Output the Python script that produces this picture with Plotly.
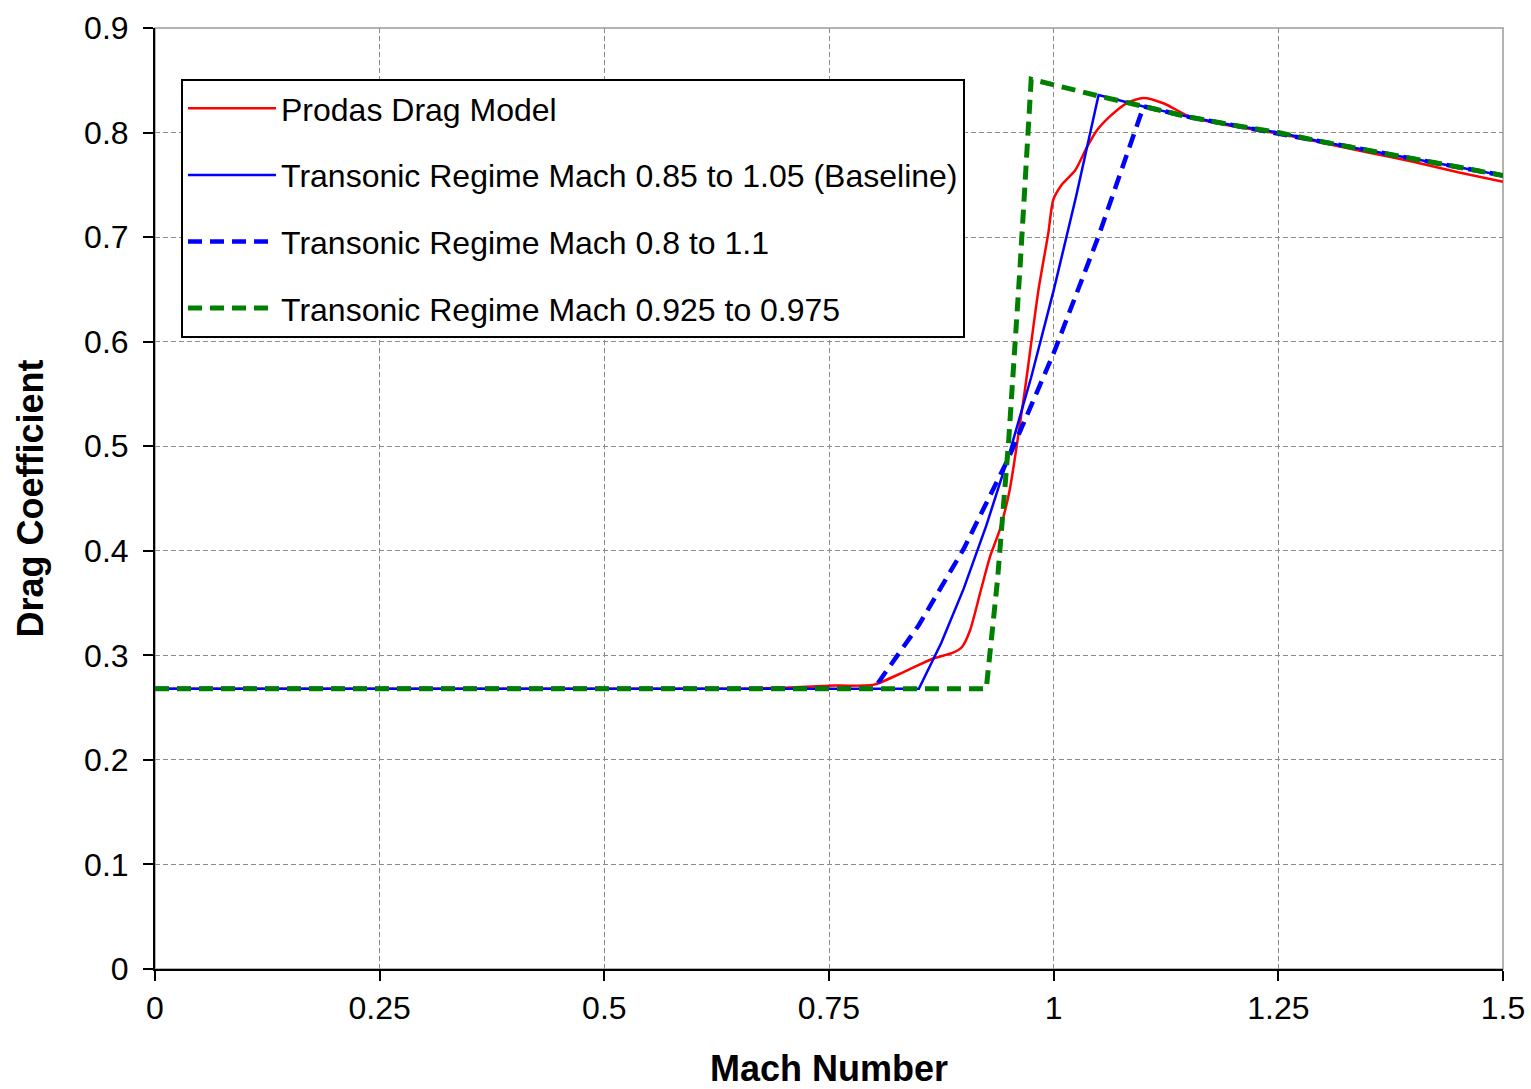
import plotly.graph_objects as go

# ---- data ----
prodas_mach = [0, 0.5, 0.65, 0.7, 0.75, 0.8, 0.833, 0.866, 0.888, 0.898, 0.907, 0.918,
               0.929, 0.940, 0.951, 0.968, 0.983, 0.994, 0.9995, 1.009, 1.024, 1.037,
               1.048, 1.062, 1.081, 1.0997, 1.122, 1.152, 1.181, 1.2, 1.25, 1.3, 1.35,
               1.4, 1.45, 1.5]
prodas_cd = [0.268, 0.268, 0.268, 0.269, 0.271, 0.272, 0.284, 0.297, 0.3025, 0.308, 0.324,
             0.359, 0.394, 0.420, 0.458, 0.554, 0.649, 0.7036, 0.7355, 0.75, 0.764, 0.786,
             0.802, 0.815, 0.828, 0.833, 0.828, 0.815, 0.809, 0.806, 0.799, 0.79, 0.781,
             0.772, 0.762, 0.753]

baseline_mach = [0, 0.85, 0.875, 0.9, 0.925, 0.95, 0.975, 1.0, 1.025, 1.05]
baseline_cd = [0.268, 0.268, 0.312, 0.364, 0.424, 0.491, 0.566, 0.649, 0.739, 0.836]

wide_mach = [0, 0.8, 0.85, 0.9, 0.95, 1.0, 1.05, 1.1]
wide_cd = [0.268, 0.268, 0.329, 0.402, 0.489, 0.589, 0.701, 0.825]

narrow_mach = [0, 0.925, 0.9375, 0.95, 0.9625, 0.975, 1.05, 1.1]
narrow_cd = [0.268, 0.268, 0.372, 0.506, 0.670, 0.851, 0.835, 0.825]

# shared supersonic branch
super_mach = [1.15, 1.2, 1.25, 1.3, 1.35, 1.4, 1.45, 1.5]
super_cd = [0.815, 0.807, 0.80, 0.791, 0.783, 0.775, 0.767, 0.759]
baseline_tail_mach = [1.1]
baseline_tail_cd = [0.825]

x_tick_vals = [0, 0.25, 0.5, 0.75, 1, 1.25, 1.5]
x_tick_text = ["0", "0.25", "0.5", "0.75", "1", "1.25", "1.5"]
y_tick_vals = [0, 0.1, 0.2, 0.3, 0.4, 0.5, 0.6, 0.7, 0.8, 0.9]
y_tick_text = ["0", "0.1", "0.2", "0.3", "0.4", "0.5", "0.6", "0.7", "0.8", "0.9"]

names = ["Prodas Drag Model",
         "Transonic Regime Mach 0.85 to 1.05 (Baseline)",
         "Transonic Regime Mach 0.8 to 1.1",
         "Transonic Regime Mach 0.925 to 0.975"]

FONT = "Liberation Sans, Arial, sans-serif"

fig = go.Figure()
fig.add_trace(go.Scatter(x=prodas_mach, y=prodas_cd, mode="lines", name=names[0],
                         legendgroup="a",
                         line=dict(color="#FF0000", width=2.5, shape="spline", smoothing=0.6)))
fig.add_trace(go.Scatter(x=baseline_mach + baseline_tail_mach + super_mach,
                         y=baseline_cd + baseline_tail_cd + super_cd,
                         mode="lines", name=names[1], legendgroup="b",
                         line=dict(color="#0000FF", width=2.5)))
fig.add_trace(go.Scatter(x=wide_mach + super_mach, y=wide_cd + super_cd,
                         mode="lines", name=names[2], legendgroup="c",
                         line=dict(color="#0000FF", width=4.5, dash="14px,8px")))
fig.add_trace(go.Scatter(x=narrow_mach + super_mach, y=narrow_cd + super_cd,
                         mode="lines", name=names[3], legendgroup="d",
                         line=dict(color="#008000", width=5, dash="14px,8px")))

# gray frame around plot area
fig.add_shape(type="rect", xref="paper", yref="paper", x0=0, y0=0, x1=1, y1=1,
              line=dict(color="#9a9a9a", width=1.5), layer="below")

fig.update_layout(
    width=1531, height=1089,
    margin=dict(l=155, r=28, t=28, b=120),
    paper_bgcolor="white", plot_bgcolor="white",
    font=dict(family=FONT, size=30, color="black"),
    showlegend=True,
    legend=dict(x=0.0193, y=0.9458, xanchor="left", yanchor="top",
                bgcolor="white", bordercolor="black", borderwidth=2,
                font=dict(family=FONT, size=32, color="black"),
                tracegroupgap=22, itemwidth=88,
                traceorder="grouped"),
    xaxis=dict(range=[0, 1.5], tickmode="array", tickvals=x_tick_vals, ticktext=x_tick_text,
               automargin=False,
               showgrid=True, gridcolor="#8c8c8c", gridwidth=1.2, griddash="5px,3px",
               showline=True, linecolor="black", linewidth=2,
               ticks="outside", ticklen=10, tickwidth=2, tickcolor="black",
               zeroline=False, tickfont=dict(size=32),
               title=dict(text="<b>Mach Number</b>", font=dict(size=36), standoff=45)),
    yaxis=dict(range=[0, 0.9], tickmode="array", tickvals=y_tick_vals, ticktext=y_tick_text,
               automargin=False,
               showgrid=True, gridcolor="#8c8c8c", gridwidth=1.2, griddash="5px,3px",
               showline=True, linecolor="black", linewidth=2,
               ticks="outside", ticklen=10, tickwidth=2, tickcolor="black",
               zeroline=False, tickfont=dict(size=32), ticklabelstandoff=8,
               title=dict(text="<b>Drag Coefficient</b>", font=dict(size=36), standoff=30)),
)

fig.write_html("out.html")
